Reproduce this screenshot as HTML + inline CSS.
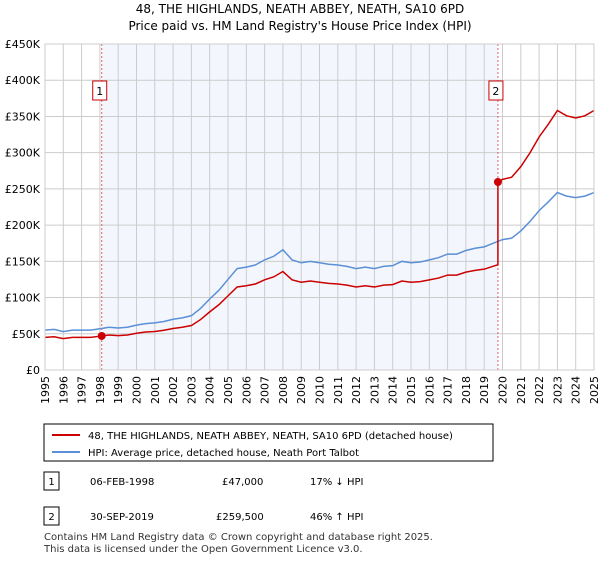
<!DOCTYPE html>
<html><head><meta charset="utf-8"><style>
body{margin:0;background:#fff;font-family:"DejaVu Sans","Liberation Sans",sans-serif;color:#000}
</style></head><body>
<svg width="600" height="560" xmlns="http://www.w3.org/2000/svg" font-family="DejaVu Sans, Liberation Sans, sans-serif">
<text x="300" y="13" font-size="12" text-anchor="middle">48, THE HIGHLANDS, NEATH ABBEY, NEATH, SA10 6PD</text>
<text x="300" y="30" font-size="12" text-anchor="middle">Price paid vs. HM Land Registry's House Price Index (HPI)</text>
<g id="plot"></g>
<g>
<rect x="44" y="424" width="449" height="37" fill="#fff" stroke="#000" stroke-width="1"/>
<line x1="52" y1="435" x2="80" y2="435" stroke="#cc0000" stroke-width="2"/>
<text x="88" y="439" font-size="10">48, THE HIGHLANDS, NEATH ABBEY, NEATH, SA10 6PD (detached house)</text>
<line x1="52" y1="452" x2="80" y2="452" stroke="#5b8fd6" stroke-width="2"/>
<text x="88" y="456" font-size="10">HPI: Average price, detached house, Neath Port Talbot</text>
</g>
<g font-size="10">
<rect x="44" y="472" width="15" height="18" fill="#fff" stroke="#000"/><text x="51.5" y="485" text-anchor="middle">1</text>
<text x="90" y="485">06-FEB-1998</text><text x="222" y="485">£47,000</text><text x="310" y="485">17% ↓ HPI</text>
<rect x="44" y="507" width="15" height="18" fill="#fff" stroke="#000"/><text x="51.5" y="520" text-anchor="middle">2</text>
<text x="90" y="520">30-SEP-2019</text><text x="216" y="520">£259,500</text><text x="310" y="520">46% ↑ HPI</text>
</g>
<text x="44" y="540" font-size="10" fill="#333">Contains HM Land Registry data © Crown copyright and database right 2025.</text>
<text x="44" y="552" font-size="10" fill="#333">This data is licensed under the Open Government Licence v3.0.</text>
</svg>
<script>
const years=[1995,1995.5,1996,1996.5,1997,1997.5,1998,1998.5,1999,1999.5,2000,2000.5,2001,2001.5,2002,2002.5,2003,2003.5,2004,2004.5,2005,2005.5,2006,2006.5,2007,2007.5,2008,2008.5,2009,2009.5,2010,2010.5,2011,2011.5,2012,2012.5,2013,2013.5,2014,2014.5,2015,2015.5,2016,2016.5,2017,2017.5,2018,2018.5,2019,2019.5,2020,2020.5,2021,2021.5,2022,2022.5,2023,2023.5,2024,2024.5,2025];
const hpi=[55,56,53,55,55,55,57,59,58,59,62,64,65,67,70,72,75,85,98,110,125,140,142,145,152,157,166,152,148,150,148,146,145,143,140,142,140,143,144,150,148,149,152,155,160,160,165,168,170,175,180,182,192,205,220,232,245,240,238,240,245];
const saleYears=[1998.1,2019.75];
const salePrices=[47,259.5];
const saleLabels=["1","2"];
const yTicks=[0,50,100,150,200,250,300,350,400,450];
const yTickLabels=["£0","£50K","£100K","£150K","£200K","£250K","£300K","£350K","£400K","£450K"];
const xTicks=[1995,1996,1997,1998,1999,2000,2001,2002,2003,2004,2005,2006,2007,2008,2009,2010,2011,2012,2013,2014,2015,2016,2017,2018,2019,2020,2021,2022,2023,2024,2025];
const X0=45,X1=594,Y0=370,Y1=44;
const sx=y=>X0+(y-1995)/30*(X1-X0);
const sy=v=>Y0-v/450*(Y0-Y1);
const NS="http://www.w3.org/2000/svg";
const g=document.getElementById('plot');
function mk(t,a,p){const e=document.createElementNS(NS,t);for(const k in a)e.setAttribute(k,a[k]);(p||g).appendChild(e);return e;}
const shade=mk('rect',{x:sx(saleYears[0]),y:Y1,width:sx(saleYears[1])-sx(saleYears[0]),height:Y0-Y1,fill:'#eef3fc',opacity:0.7});


xTicks.forEach(t=>{const l=mk('line',{x1:sx(t),x2:sx(t),y1:Y1,y2:Y0,stroke:'#ccc','stroke-width':1});


const tx=mk('text',{x:0,y:0,'font-size':11,'text-anchor':'end',transform:`translate(${sx(t)+4},${Y0+6}) rotate(-90)`});tx.textContent=t;

});
yTicks.forEach((t,i)=>{const l=mk('line',{x1:X0,x2:X1,y1:sy(t),y2:sy(t),stroke:'#ccc','stroke-width':1});


const tx=mk('text',{x:40,y:sy(t)+4,'font-size':11,'text-anchor':'end'});tx.textContent=yTickLabels[i];

});
saleYears.forEach((s,i)=>{const l=mk('line',{x1:sx(s),x2:sx(s),y1:Y1,y2:Y0,stroke:'#e06060','stroke-width':1,'stroke-dasharray':'2,2'});


const b=mk('rect',{x:sx(s)-9,y:81,width:14,height:19,fill:'#fff',stroke:'#cc0000'});


const tx=mk('text',{x:sx(s)-2,y:95,'font-size':11,'text-anchor':'middle'});tx.textContent=saleLabels[i];

});
function interp(y){for(let i=0;i<years.length-1;i++){if(y>=years[i]&&y<=years[i+1]){const f=(y-years[i])/(years[i+1]-years[i]);return hpi[i]+f*(hpi[i+1]-hpi[i]);}}return hpi[hpi.length-1];}
const bp=years.map((y,i)=>`${sx(y)},${sy(hpi[i])}`).join(' ');
const bl=mk('polyline',{points:bp,fill:'none',stroke:'#5b8fd6','stroke-width':1.5});


const r1=salePrices[0]/interp(saleYears[0]),r2=salePrices[1]/interp(saleYears[1]);
let rp=[];
years.forEach((y,i)=>{if(y<saleYears[1])rp.push([y,hpi[i]*r1]);});
rp.push([saleYears[1],interp(saleYears[1])*r1]);rp.push([saleYears[1],salePrices[1]]);
years.forEach((y,i)=>{if(y>saleYears[1])rp.push([y,hpi[i]*r2]);});
const rl=mk('polyline',{points:rp.map(p=>`${sx(p[0])},${sy(p[1])}`).join(' '),fill:'none',stroke:'#cc0000','stroke-width':1.5});


saleYears.forEach((s,i)=>{const c=mk('circle',{cx:sx(s),cy:sy(salePrices[i]),r:4,fill:'#cc0000'});

});
const ax=mk('rect',{x:X0,y:Y1,width:X1-X0,height:Y0-Y1,fill:'none',stroke:'#ccc'});


</script>
</body></html>
